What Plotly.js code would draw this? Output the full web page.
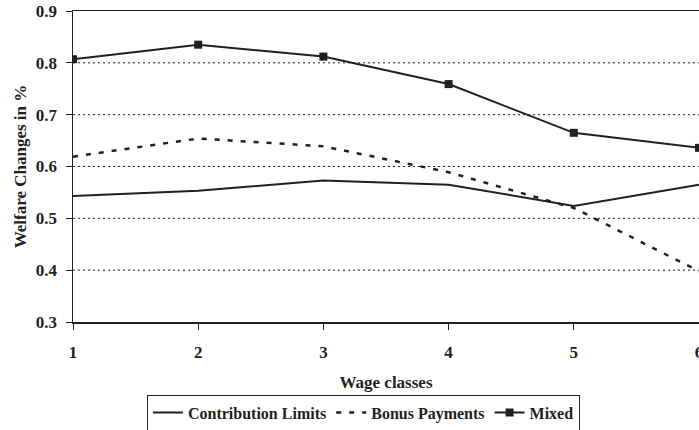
<!DOCTYPE html>
<html>
<head>
<meta charset="utf-8">
<script src="https://cdn.plot.ly/plotly-3.0.1.min.js"></script>
<style>html,body{margin:0;padding:0;background:#fff;}#chart{width:699px;height:430px;}</style>
</head>
<body>
<div id="chart"></div>
<script>
const wageClasses = [1, 2, 3, 4, 5, 6];
const contributionLimits = [0.543, 0.553, 0.573, 0.565, 0.524, 0.565];
const bonusPayments = [0.619, 0.654, 0.639, 0.589, 0.520, 0.398];
const mixed = [0.807, 0.835, 0.812, 0.759, 0.665, 0.636];
const seriesNames = ['Contribution Limits', 'Bonus Payments', 'Mixed'];
const yTicks = [0.3, 0.4, 0.5, 0.6, 0.7, 0.8, 0.9];

const ink = '#231f20';
const font = {family: '"Liberation Serif", "Times New Roman", serif', size: 17, color: ink, weight: 'bold'};

const traces = [
  {x: wageClasses, y: contributionLimits, name: seriesNames[0], mode: 'lines',
   line: {color: ink, width: 2}},
  {x: wageClasses, y: bonusPayments, name: seriesNames[1], mode: 'lines',
   line: {color: ink, width: 2.5, dash: '5px,8px'}},
  {x: wageClasses, y: mixed, name: seriesNames[2], mode: 'lines+markers',
   line: {color: ink, width: 2}, marker: {symbol: 'square', size: 8, color: ink}}
];

const gridShapes = [0.4, 0.5, 0.6, 0.7, 0.8].map(v => ({
  type: 'line', xref: 'paper', x0: 0, x1: 1, yref: 'y', y0: v, y1: v,
  line: {color: ink, width: 1, dash: '2px,3px'}, layer: 'below'
}));

const layout = {
  width: 699, height: 430,
  margin: {l: 73, r: 0, t: 11, b: 108, autoexpand: false},
  paper_bgcolor: '#fff', plot_bgcolor: '#fff',
  font: font,
  showlegend: true,
  legend: {orientation: 'h', x: 0.464, xanchor: 'center', y: -0.291, yanchor: 'middle',
           bordercolor: ink, borderwidth: 1, font: {...font, size: 16}, traceorder: 'normal',
           itemwidth: 30, tracegroupgap: 0},
  xaxis: {range: [1, 6], tickvals: wageClasses, ticktext: wageClasses.map(String),
          automargin: false,
          showgrid: false, zeroline: false, showline: true, linecolor: ink, linewidth: 1.5,
          mirror: true, ticks: 'outside', ticklen: 6, tickcolor: ink, tickwidth: 1,
          tickfont: font, ticklabeloverflow: 'allow', ticklabelstandoff: 8,
          title: {text: 'Wage classes', font: font, standoff: 15}},
  yaxis: {range: [0.3, 0.9], tickvals: yTicks, ticktext: yTicks.map(v => v.toFixed(1)),
          automargin: false,
          showgrid: false, zeroline: false, showline: true, linecolor: ink, linewidth: 1.5,
          ticks: 'outside', ticklen: 6, tickcolor: ink, tickwidth: 1,
          tickfont: font, ticklabelstandoff: 5,
          title: {text: 'Welfare Changes in %', font: font, standoff: 5}},
  shapes: gridShapes
};

Plotly.newPlot('chart', traces, layout, {displayModeBar: false, staticPlot: true});
</script>
</body>
</html>
